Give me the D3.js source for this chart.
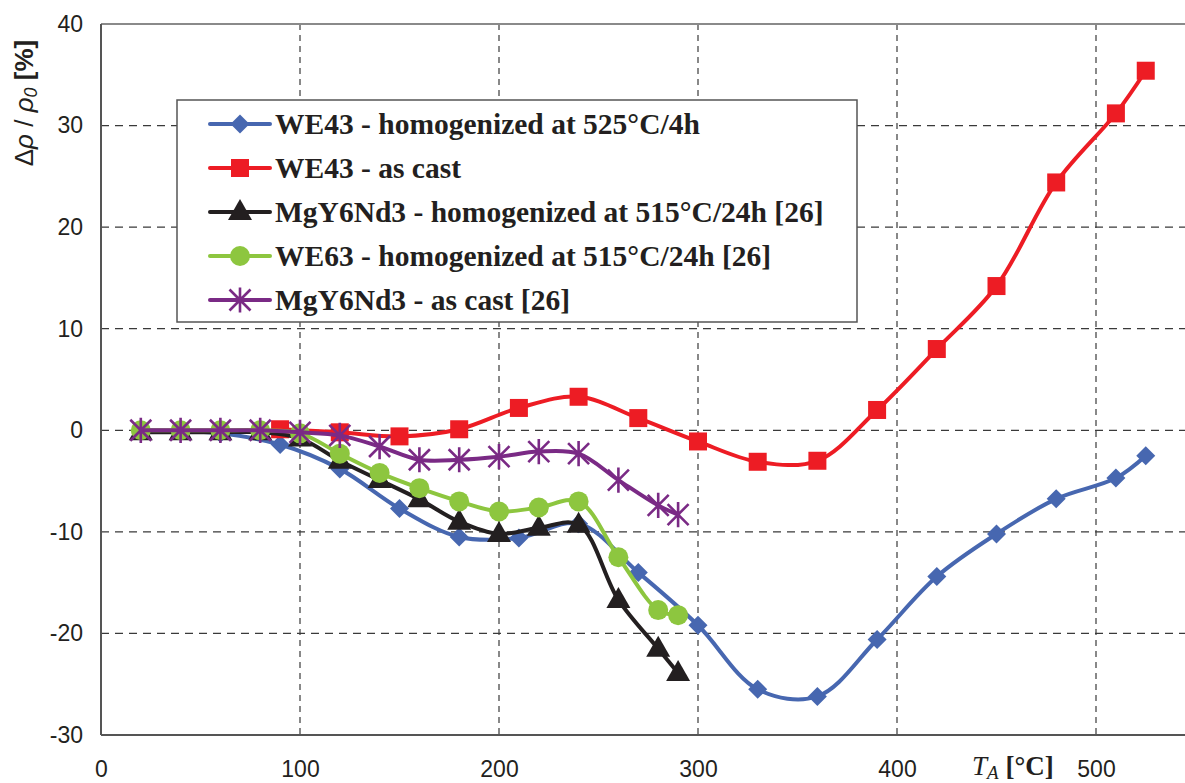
<!DOCTYPE html>
<html><head><meta charset="utf-8">
<script src="https://cdn.jsdelivr.net/npm/d3@7"></script>
<style>body{margin:0;background:#fff} svg{display:block}</style>
</head><body>
<svg id="chart" width="1185" height="783"></svg>
<script>
// Tick values
const xTicks = [0, 100, 200, 300, 400, 500];
const yTicks = [-30, -20, -10, 0, 10, 20, 30, 40];

// Annealing temperature T_A [°C] and relative resistivity change Δρ/ρ0 [%]
const we43HomT = [20, 40, 60, 90, 120, 150, 180, 210, 240, 270, 300, 330, 360, 390, 420, 450, 480, 510, 525];
const we43HomV = [0, -0.1, -0.3, -1.4, -3.8, -7.7, -10.5, -10.6, -9.2, -14.0, -19.2, -25.5, -26.2, -20.6, -14.4, -10.2, -6.75, -4.7, -2.5];
const we43CastT = [90, 120, 150, 180, 210, 240, 270, 300, 330, 360, 390, 420, 450, 480, 510, 525];
const we43CastV = [0.1, -0.2, -0.6, 0.1, 2.2, 3.3, 1.2, -1.1, -3.1, -3.0, 2.0, 8.0, 14.2, 24.4, 31.2, 35.4];
const mgHomT = [20, 40, 60, 80, 100, 120, 140, 160, 180, 200, 220, 240, 260, 280, 290];
const mgHomV = [-0.2, -0.2, -0.2, -0.2, -0.8, -3.0, -4.9, -6.8, -9.0, -10.2, -9.6, -9.3, -16.7, -21.5, -23.9];
const we63T = [20, 40, 60, 80, 100, 120, 140, 160, 180, 200, 220, 240, 260, 280, 290];
const we63V = [0, 0, 0, 0, -0.3, -2.3, -4.2, -5.7, -7.0, -8.0, -7.6, -7.0, -12.5, -17.7, -18.2];
const mgCastT = [20, 40, 60, 80, 100, 120, 140, 160, 180, 200, 220, 240, 260, 280, 290];
const mgCastV = [0, 0, 0, 0, -0.2, -0.5, -1.6, -2.9, -2.9, -2.6, -2.1, -2.3, -4.9, -7.4, -8.3];

const seriesNames = [
  "WE43 - homogenized at 525°C/4h",
  "WE43 - as cast",
  "MgY6Nd3 - homogenized at 515°C/24h [26]",
  "WE63 - homogenized at 515°C/24h [26]",
  "MgY6Nd3 - as cast [26]"
];

const series = [
  {name: seriesNames[0], t: we43HomT, v: we43HomV, color: "#4767b0", marker: "diamond"},
  {name: seriesNames[1], t: we43CastT, v: we43CastV, color: "#ed1c24", marker: "square"},
  {name: seriesNames[2], t: mgHomT, v: mgHomV, color: "#231f20", marker: "triangle"},
  {name: seriesNames[3], t: we63T, v: we63V, color: "#8dc63f", marker: "circle"},
  {name: seriesNames[4], t: mgCastT, v: mgCastV, color: "#7a2a85", marker: "star"}
];

const svg = d3.select("#chart");
const W = 1185, H = 783;
const plot = {left: 101, top: 24, bottom: 735};

const x = d3.scaleLinear().domain([0, 550]).range([plot.left, plot.left + 550 * 1.99]);
const y = d3.scaleLinear().domain([-30, 40]).range([plot.bottom, plot.top]);

// Gridlines
const grid = svg.append("g");
grid.selectAll("line.h").data(yTicks.filter(d => d > -30 && d < 40)).join("line")
  .attr("x1", plot.left).attr("x2", W)
  .attr("y1", d => y(d)).attr("y2", d => y(d))
  .attr("stroke", "#3a3a3a").attr("stroke-width", 1.2).attr("stroke-dasharray", "8,6");
grid.selectAll("line.v").data(xTicks.filter(d => d > 0)).join("line")
  .attr("x1", d => x(d)).attr("x2", d => x(d))
  .attr("y1", plot.top).attr("y2", plot.bottom)
  .attr("stroke", "#3a3a3a").attr("stroke-width", 1.2).attr("stroke-dasharray", "6,5");

// Frame
svg.append("line").attr("x1", plot.left).attr("x2", W).attr("y1", plot.top).attr("y2", plot.top)
  .attr("stroke", "#8a8a8a").attr("stroke-width", 2);
svg.append("line").attr("x1", plot.left).attr("x2", W).attr("y1", plot.bottom).attr("y2", plot.bottom)
  .attr("stroke", "#555").attr("stroke-width", 2);
svg.append("line").attr("x1", plot.left).attr("x2", plot.left).attr("y1", plot.top).attr("y2", plot.bottom)
  .attr("stroke", "#555").attr("stroke-width", 2);

// Axis tick labels (plain hyphen for negatives)
const fmt = d => String(d);
const yAxis = d3.axisLeft(y).tickValues(yTicks).tickFormat(fmt).tickSize(0).tickPadding(18);
svg.append("g").attr("transform", `translate(${plot.left},0)`).call(yAxis)
  .call(g => g.select(".domain").remove())
  .selectAll("text").attr("font-family", "Liberation Sans, Arial, sans-serif")
  .attr("font-size", 23).attr("fill", "#231f20");
const xAxis = d3.axisBottom(x).tickValues(xTicks).tickFormat(fmt).tickSize(0).tickPadding(26);
svg.append("g").attr("transform", `translate(0,${plot.bottom})`).call(xAxis)
  .call(g => g.select(".domain").remove())
  .selectAll("text").attr("font-family", "Liberation Sans, Arial, sans-serif")
  .attr("font-size", 23).attr("fill", "#231f20");

// Axis titles
const yTitle = svg.append("text")
  .attr("transform", "translate(33,103) rotate(-90)")
  .attr("text-anchor", "middle")
  .attr("font-family", "Liberation Sans, Arial, sans-serif")
  .attr("font-size", 26).attr("fill", "#231f20");
yTitle.append("tspan").text("Δ");
yTitle.append("tspan").attr("font-style", "italic").text("ρ");
yTitle.append("tspan").text(" / ");
yTitle.append("tspan").attr("font-style", "italic").text("ρ");
yTitle.append("tspan").attr("font-style", "italic").attr("font-size", 18).attr("dy", 4).text("0");
yTitle.append("tspan").attr("font-weight", "bold").attr("dy", -4).text(" [%]");

const xTitle = svg.append("text")
  .attr("x", 972).attr("y", 775)
  .attr("font-family", "Liberation Serif, Times New Roman, serif")
  .attr("font-size", 27).attr("fill", "#231f20");
xTitle.append("tspan").attr("font-style", "italic").text("T");
xTitle.append("tspan").attr("font-style", "italic").attr("font-size", 19).attr("dy", 4).text("A");
xTitle.append("tspan").attr("font-weight", "bold").attr("dy", -4).text(" [°C]");

// Marker shapes
function drawMarker(g, type, color) {
  if (type === "diamond") {
    g.append("path").attr("d", "M0,-9.5L9.5,0L0,9.5L-9.5,0Z").attr("fill", color);
  } else if (type === "square") {
    g.append("rect").attr("x", -9).attr("y", -9).attr("width", 18).attr("height", 18).attr("fill", color);
  } else if (type === "triangle") {
    g.append("path").attr("d", "M0,-13L12,8L-12,8Z").attr("fill", color);
  } else if (type === "circle") {
    g.append("circle").attr("r", 10).attr("fill", color);
  } else if (type === "star") {
    const r = 10.5;
    const d = `M${-r},${-r}L${r},${r}M${r},${-r}L${-r},${r}M0,${-r * 1.2}L0,${r * 1.2}`;
    g.append("path").attr("d", d).attr("stroke", color).attr("stroke-width", 2.6).attr("fill", "none");
  }
}

const line = d3.line()
  .x(d => x(d[0])).y(d => y(d[1]))
  .curve(d3.curveCatmullRom.alpha(0.5));

const plotG = svg.append("g");
series.forEach(s => {
  const pts = s.t.map((t, i) => [t, s.v[i]]);
  const g = plotG.append("g");
  g.append("path").datum(pts).attr("d", line)
    .attr("fill", "none").attr("stroke", s.color).attr("stroke-width", 4)
    .attr("stroke-linejoin", "round").attr("stroke-linecap", "round");
  pts.forEach(p => {
    const m = g.append("g").attr("transform", `translate(${x(p[0])},${y(p[1])})`);
    drawMarker(m, s.marker, s.color);
  });
});

// Legend
const legend = svg.append("g");
legend.append("rect").attr("x", 177).attr("y", 100).attr("width", 680).attr("height", 222)
  .attr("fill", "#fff").attr("stroke", "#555").attr("stroke-width", 1.5);
const rowY = d3.scalePoint().domain(d3.range(series.length)).range([124, 300]);
series.forEach((s, i) => {
  const yy = rowY(i);
  const g = legend.append("g");
  g.append("line").attr("x1", 210).attr("x2", 270).attr("y1", yy).attr("y2", yy)
    .attr("stroke", s.color).attr("stroke-width", 4).attr("stroke-linecap", "round");
  const m = g.append("g").attr("transform", `translate(240,${yy})`);
  drawMarker(m, s.marker, s.color);
  g.append("text").attr("x", 275).attr("y", yy).attr("dy", "0.35em")
    .attr("font-family", "Liberation Serif, Times New Roman, serif")
    .attr("font-weight", "bold").attr("font-size", 29.5).attr("fill", "#231f20")
    .text(s.name);
});
</script>
</body></html>
